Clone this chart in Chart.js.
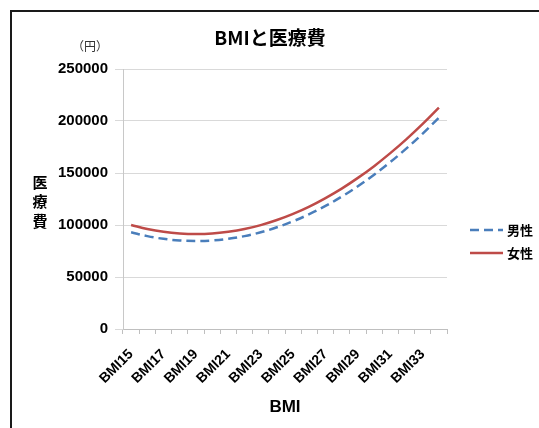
<!DOCTYPE html>
<html>
<head>
<meta charset="utf-8">
<script src="https://cdn.jsdelivr.net/npm/chart.js@4.4.1/dist/chart.umd.min.js"></script>
<style>
  body { margin: 0; background: #fff; }
  canvas { display: block; }
</style>
</head>
<body>
<canvas id="bmiChart" width="539" height="428"></canvas>
<script>
const categories = [
    'BMI15', 'BMI16', 'BMI17', 'BMI18', 'BMI19', 'BMI20', 'BMI21', 'BMI22', 'BMI23', 'BMI24',
    'BMI25', 'BMI26', 'BMI27', 'BMI28', 'BMI29', 'BMI30', 'BMI31', 'BMI32', 'BMI33', 'BMI34'
];
const maleCost = [
    93000, 89300, 86700, 85100, 84600, 85100, 86700, 89300, 93000, 97800,
    103600, 110400, 118300, 127300, 137300, 148400, 160500, 173700, 187900, 203200
];
const femaleCost = [
    100000, 96200, 93500, 91900, 91300, 91800, 93500, 96100, 99900, 104800,
    110700, 117700, 125900, 135000, 145300, 156600, 169100, 182600, 197200, 212900
];
const seriesNames = ['男性', '女性'];
const yMin = 0, yMax = 250000, yStep = 50000;

const FONT = "'Liberation Sans', 'Noto Sans CJK JP', sans-serif";
const CJK = "'Noto Sans CJK JP', sans-serif";

// title, frame, unit label, vertical axis label and legend
const decorations = {
    id: 'decorations',
    beforeDraw(chart) {
        const ctx = chart.ctx;
        ctx.save();
        ctx.fillStyle = '#fff';
        ctx.fillRect(0, 0, chart.width, chart.height);
        ctx.strokeStyle = '#1a1a1a';
        ctx.lineWidth = 2;
        ctx.strokeRect(11, 11, 700, 700);
        ctx.restore();
    },
    afterDraw(chart) {
        const ctx = chart.ctx;
        ctx.save();
        ctx.fillStyle = '#000';
        ctx.textAlign = 'center';
        ctx.textBaseline = 'middle';
        ctx.font = `bold 19px ${CJK}`;
        ctx.fillText('BMIと医療費', 270, 38);

        ctx.font = `12px ${CJK}`;
        ctx.fillStyle = '#333';
        ctx.fillText('（円）', 90, 46);

        ctx.fillStyle = '#000';
        ctx.font = `bold 15px ${CJK}`;
        ['医', '療', '費'].forEach((ch, i) => ctx.fillText(ch, 40, 182 + i * 19.5));

        // legend
        chart.data.datasets.forEach((ds, i) => {
            const y = 230 + i * 23;
            ctx.strokeStyle = ds.borderColor;
            ctx.lineWidth = ds.borderWidth;
            ctx.setLineDash(ds.borderDash || []);
            ctx.beginPath();
            ctx.moveTo(470, y);
            ctx.lineTo(503, y);
            ctx.stroke();
            ctx.setLineDash([]);
            ctx.fillStyle = '#000';
            ctx.textAlign = 'left';
            ctx.font = `bold 13px ${CJK}`;
            ctx.fillText(ds.label, 507, y);
        });
        ctx.restore();
    }
};

new Chart(document.getElementById('bmiChart'), {
    type: 'line',
    data: {
        labels: categories,
        datasets: [
            {
                label: seriesNames[0],
                data: maleCost,
                borderColor: '#4a7ebb',
                borderWidth: 2.5,
                borderDash: [9, 5],
                pointRadius: 0,
                tension: 0.4,
                fill: false
            },
            {
                label: seriesNames[1],
                data: femaleCost,
                borderColor: '#be4b48',
                borderWidth: 2.5,
                pointRadius: 0,
                tension: 0.4,
                fill: false
            }
        ]
    },
    options: {
        responsive: false,
        animation: false,
        events: [],
        layout: { padding: { left: 10, right: 92, top: 69, bottom: 0 } },
        plugins: {
            legend: { display: false },
            title: { display: false },
            tooltip: { enabled: false }
        },
        scales: {
            x: {
                offset: true,
                afterFit: scale => { scale.height = 99; },
                grid: {
                    offset: true,
                    drawOnChartArea: false,
                    tickLength: 5,
                    color: '#bfbfbf'
                },
                border: { color: '#bfbfbf' },
                ticks: {
                    autoSkip: false,
                    minRotation: 45,
                    maxRotation: 45,
                    padding: 12,
                    color: '#000',
                    font: { family: FONT, size: 14, weight: 'bold' },
                    callback: (value, index) => index % 2 === 0 ? categories[index] : ''
                },
                title: {
                    display: true,
                    text: 'BMI',
                    color: '#000',
                    font: { family: FONT, size: 17, weight: 'bold' },
                    padding: { top: 0, bottom: 10 }
                }
            },
            y: {
                min: yMin,
                max: yMax,
                afterFit: scale => { scale.width = 113; },
                grid: { color: '#d9d9d9', tickLength: 8 },
                border: { color: '#c8c8c8' },
                ticks: {
                    stepSize: yStep,
                    padding: 7,
                    color: '#000',
                    font: { family: FONT, size: 15, weight: 'bold' },
                    callback: value => String(value)
                }
            }
        }
    },
    plugins: [decorations]
});
</script>
</body>
</html>
